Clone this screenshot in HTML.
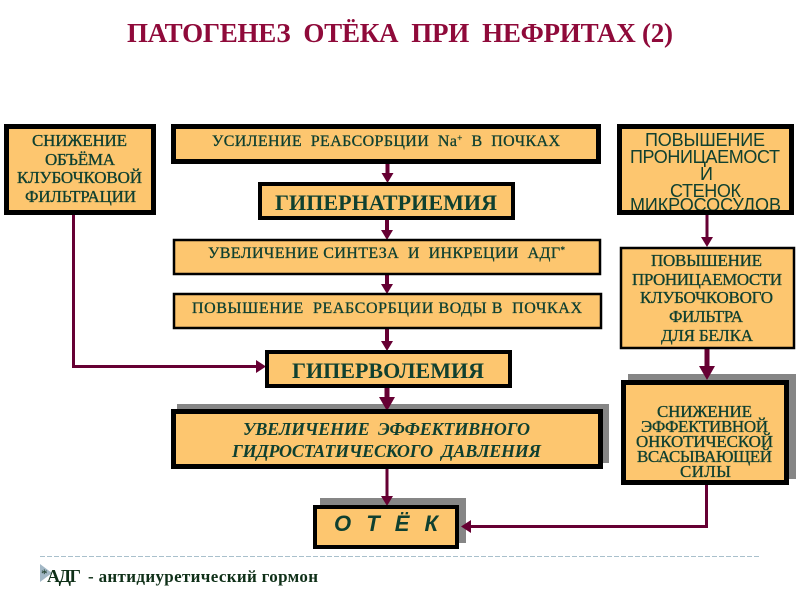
<!DOCTYPE html>
<html lang="ru"><head><meta charset="utf-8"><title>Патогенез отёка при нефритах</title>
<style>
html,body{margin:0;padding:0;background:#fff;width:800px;height:600px;overflow:hidden}
svg{display:block}
text{font-family:"Liberation Serif",serif;fill:#0f4030;text-anchor:start}
.m{font-size:17px;stroke:#0f4030;stroke-width:.3}
.n{font-size:16px;stroke:#0f4030;stroke-width:.3}
.r{font-family:"Liberation Sans",sans-serif;font-size:18px}
.b{fill:#fdc66f;stroke:#000}
.c{stroke:#660033;fill:none}
.h{fill:#660033}
.s{fill:#868686}
</style></head><body>
<svg width="800" height="600" viewBox="0 0 800 600" xmlns="http://www.w3.org/2000/svg">
<text x="127" y="42" font-size="27" font-weight="bold" style="fill:#8f0a3a" textLength="546" lengthAdjust="spacing">ПАТОГЕНЕЗ&#160; ОТЁКА&#160; ПРИ&#160; НЕФРИТАХ (2)</text>

<!-- shadows -->
<rect class="s" x="177" y="404" width="432" height="59"/>
<rect class="s" x="320" y="498" width="146" height="45"/>
<rect class="s" x="628" y="374" width="168" height="105"/>

<!-- connectors -->
<path class="c" stroke-width="4" d="M387.500 164V176M387 220V233M387 275V287M387 329V344"/>
<path class="c" stroke-width="5" d="M387 388V400"/>
<path class="c" stroke-width="3" d="M387 469V498"/>
<path class="c" stroke-width="3" d="M73.500 215V366.500H259"/>
<path class="c" stroke-width="3" d="M707 215V240"/>
<path class="c" stroke-width="5" d="M707 349V370"/>
<path class="c" stroke-width="3" d="M706.500 485V526.500H468"/>
<path class="h" d="M381.500 173H393.500L387.500 183ZM381 230H393L387 240ZM381 284H393L387 294ZM381 341H393L387 351ZM379 397H395L387 411ZM381 496H393L387 506ZM256 360V373L266 366.500ZM701 237H713L707 247ZM699 366H715L707 380ZM471 520V533L461 526.500Z"/>

<!-- boxes -->
<rect class="b" x="6.500" y="126.500" width="147" height="86" stroke-width="5"/>
<rect class="b" x="173.500" y="126.500" width="425" height="35" stroke-width="5"/>
<rect class="b" x="260" y="184" width="253" height="34" stroke-width="4"/>
<rect class="b" x="174" y="240" width="426" height="34" stroke-width="2.500"/>
<rect class="b" x="174" y="294" width="427" height="34" stroke-width="2.500"/>
<rect class="b" x="267" y="352" width="243" height="34" stroke-width="4"/>
<rect class="b" x="173.500" y="411.500" width="427" height="55" stroke-width="5"/>
<rect class="b" x="315" y="507" width="142" height="40" stroke-width="4"/>
<rect class="b" x="621" y="248" width="173" height="100" stroke-width="2.500"/>
<rect class="b" x="623.500" y="382.500" width="163" height="100" stroke-width="5"/>
<rect x="619.500" y="126.500" width="172" height="86" fill="#fdc66f"/>

<!-- right top text -->
<text class="r" x="645" y="146" textLength="120">ПОВЫШЕНИЕ</text>
<text class="r" x="630" y="163" textLength="150">ПРОНИЦАЕМОСТ</text>
<text class="r" x="700" y="180">И</text>
<text class="r" x="670" y="197" textLength="71">СТЕНОК</text>
<text class="r" x="630" y="211" textLength="151">МИКРОСОСУДОВ</text>
<rect x="619.500" y="126.500" width="172" height="86" fill="none" stroke="#000" stroke-width="5"/>

<!-- left box -->
<text class="m" x="32" y="146" textLength="95">СНИЖЕНИЕ</text>
<text class="m" x="45" y="165" textLength="70">ОБЪЁМА</text>
<text class="m" x="17" y="183" textLength="125">КЛУБОЧКОВОЙ</text>
<text class="m" x="25" y="202" textLength="111">ФИЛЬТРАЦИИ</text>

<!-- centre -->
<text class="n" x="212" y="146" textLength="348">УСИЛЕНИЕ&#160; РЕАБСОРБЦИИ&#160; Na<tspan font-size="9" dy="-5">+</tspan><tspan dy="5">&#160; В&#160; ПОЧКАХ</tspan></text>
<text x="275" y="210" font-size="22" font-weight="bold" textLength="222">ГИПЕРНАТРИЕМИЯ</text>
<text class="n" x="208" y="258" textLength="357">УВЕЛИЧЕНИЕ СИНТЕЗА&#160; И&#160; ИНКРЕЦИИ&#160; АДГ<tspan font-size="9" dy="-5">*</tspan></text>
<text class="n" x="192" y="313" textLength="390">ПОВЫШЕНИЕ&#160; РЕАБСОРБЦИИ ВОДЫ В&#160; ПОЧКАХ</text>
<text x="292" y="378" font-size="22" font-weight="bold" textLength="192">ГИПЕРВОЛЕМИЯ</text>
<text x="243" y="435" font-size="18" font-weight="bold" font-style="italic" textLength="287">УВЕЛИЧЕНИЕ&#160; ЭФФЕКТИВНОГО</text>
<text x="232" y="457" font-size="18" font-weight="bold" font-style="italic" textLength="309">ГИДРОСТАТИЧЕСКОГО&#160; ДАВЛЕНИЯ</text>
<text style="font-family:'Liberation Sans',sans-serif" x="334" y="531" font-size="22" font-weight="bold" font-style="italic" textLength="104">О&#160; Т&#160; Ё&#160; К</text>

<!-- right mid -->
<text class="m" x="651" y="266" textLength="111">ПОВЫШЕНИЕ</text>
<text class="m" x="632" y="285" textLength="150">ПРОНИЦАЕМОСТИ</text>
<text class="m" x="640" y="303" textLength="133">КЛУБОЧКОВОГО</text>
<text class="m" x="669" y="322" textLength="74">ФИЛЬТРА</text>
<text class="m" x="661" y="341" textLength="92">ДЛЯ БЕЛКА</text>

<!-- right bottom -->
<text class="m" x="657" y="417" textLength="95">СНИЖЕНИЕ</text>
<text class="m" x="641" y="432" textLength="127">ЭФФЕКТИВНОЙ</text>
<text class="m" x="636" y="447" textLength="137">ОНКОТИЧЕСКОЙ</text>
<text class="m" x="637" y="462" textLength="135">ВСАСЫВАЮЩЕЙ</text>
<text class="m" x="680" y="477" textLength="51">СИЛЫ</text>

<!-- footer -->
<line x1="40" y1="556.500" x2="761" y2="556.500" stroke="#a9c0cc" stroke-width="1" stroke-dasharray="5 2"/>
<path d="M40 564L52 573L40 582Z" fill="#a3b8c6"/>
<text x="41" y="578" font-size="13" style="fill:#0f3018">*</text>
<text x="47" y="582" font-size="18" font-weight="bold" style="fill:#0f3018" textLength="34">АДГ</text>
<text x="88" y="582" font-size="17" font-weight="bold" style="fill:#0f3018" textLength="230">-&#160;антидиуретический гормон</text>
</svg>
</body></html>
